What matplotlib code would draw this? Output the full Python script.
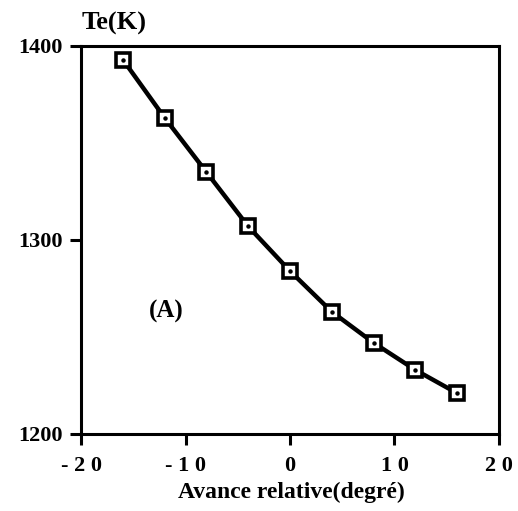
import matplotlib
matplotlib.use("Agg")
import matplotlib.pyplot as plt

# data
avance = [-16, -12, -8, -4, 0, 4, 8, 12, 16]
te = [1393, 1363, 1335, 1307, 1284, 1263, 1247, 1233, 1221]

xticks = [-20, -10, 0, 10, 20]
xticklabels = ["- 2 0", "- 1 0", "0", "1 0", "2 0"]
yticks = [1200, 1300, 1400]

plt.rcParams['font.family'] = ['Liberation Serif', 'DejaVu Serif']
plt.rcParams['font.weight'] = 'bold'

fig = plt.figure(figsize=(5.18, 5.11), dpi=100)
ax = fig.add_axes([0.1564, 0.1507, 0.8069, 0.7593])

ax.plot(avance, te, color='black', lw=3.2, marker='s', ms=10.5,
        mfc='white', mec='black', mew=2.6, zorder=3)
ax.plot(avance, te, ls='none', marker='o', ms=2.2, color='black', zorder=4)

ax.set_xlim(-20, 20)
ax.set_ylim(1200, 1400)
ax.set_xticks(xticks)
ax.set_xticklabels(xticklabels)
ax.set_yticks(yticks)
for s in ax.spines.values():
    s.set_linewidth(2.2)
ax.tick_params(direction='out', length=8, width=2.2, labelsize=16)
ax.tick_params(axis='x', pad=8)
ax.tick_params(axis='y', pad=5)

ax.text(-11.8, 1263, "(A)", fontsize=18, fontweight='bold', ha='center', va='center')
fig.text(0.22, 0.955, "Te(K)", fontsize=19, fontweight='bold', ha='center', va='center')
fig.text(0.563, 0.037, "Avance relative(degré)", fontsize=17, fontweight='bold', ha='center', va='center')

fig.savefig("out.png", dpi=100)
